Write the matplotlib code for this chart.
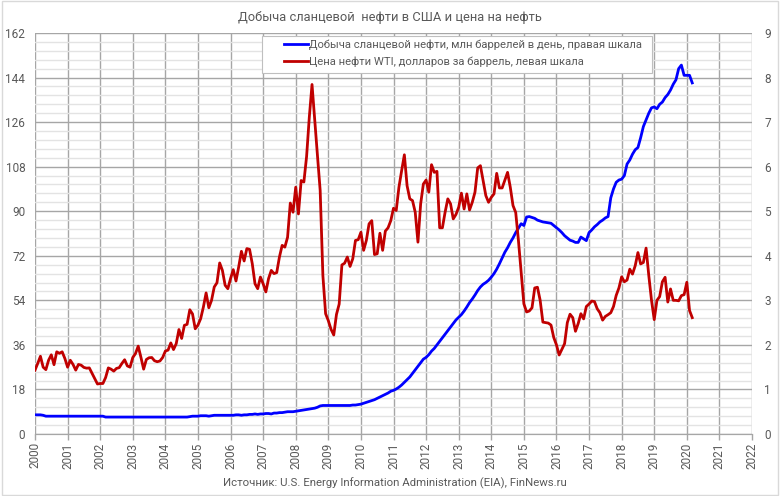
import matplotlib
matplotlib.use("Agg")
import matplotlib.pyplot as plt
from matplotlib.ticker import MultipleLocator
import numpy as np

plt.rcParams['font.family'] = ['Roboto', 'DejaVu Sans']

# ---- data: WTI oil price, USD per barrel (left axis), monthly from Jan 2000
wti = {
    2000: [25.8, 28.5, 31.4, 27.0, 26.0, 29.8, 32.0, 28.0, 33.2, 32.6, 33.2, 30.5],
    2001: [27.0, 29.8, 28.1, 25.8, 28.1, 27.8, 26.9, 26.6, 26.7, 24.5, 22.4, 20.2],
    2002: [20.4, 20.4, 22.8, 26.7, 26.2, 25.4, 26.5, 26.8, 28.5, 30.0, 27.5, 27.0],
    2003: [30.9, 32.5, 35.5, 31.0, 26.2, 30.1, 30.8, 30.9, 29.6, 29.2, 29.5, 30.9],
    2004: [33.5, 33.9, 36.8, 34.1, 36.5, 42.2, 38.6, 43.9, 44.3, 50.2, 48.5, 42.5],
    2005: [44.0, 46.6, 51.3, 57.0, 51.0, 54.0, 59.4, 61.1, 69.1, 66.1, 60.1, 58.7],
    2006: [62.8, 66.4, 61.8, 67.5, 73.8, 69.9, 74.9, 74.6, 68.8, 60.7, 58.7, 63.4],
    2007: [60.7, 57.4, 62.8, 66.1, 64.8, 65.2, 71.5, 76.2, 75.5, 79.5, 93.3, 89.6],
    2008: [99.7, 88.9, 102.4, 101.8, 112.1, 128.0, 141.2, 126.7, 112.5, 98.4, 64.0, 48.6],
    2009: [45.8, 42.3, 40.0, 48.3, 52.5, 68.3, 69.0, 71.5, 67.7, 70.8, 78.2, 78.5],
    2010: [81.5, 74.2, 78.2, 84.9, 86.2, 72.5, 72.8, 81.1, 74.2, 82.0, 83.3, 86.2],
    2011: [91.2, 90.3, 99.7, 106.4, 112.8, 100.3, 95.0, 94.3, 89.6, 77.5, 93.0, 101.0],
    2012: [102.6, 97.7, 108.8, 105.7, 106.1, 83.3, 83.3, 89.6, 95.0, 93.0, 86.9, 88.7],
    2013: [91.6, 97.3, 90.9, 97.0, 90.5, 93.6, 97.7, 107.5, 108.4, 102.4, 96.3, 93.6],
    2014: [95.6, 97.0, 105.3, 99.4, 99.4, 102.6, 105.7, 99.7, 92.3, 89.5, 78.2, 65.5],
    2015: [52.6, 49.3, 49.7, 51.0, 59.0, 59.3, 54.0, 45.2, 45.0, 44.8, 44.0, 39.0],
    2016: [36.0, 31.9, 34.2, 36.5, 45.0, 48.4, 47.0, 41.5, 44.6, 48.6, 46.5, 51.5],
    2017: [52.5, 53.7, 53.5, 50.6, 49.0, 46.0, 47.5, 48.2, 49.0, 51.5, 56.0, 59.0],
    2018: [63.5, 61.5, 62.2, 66.6, 64.6, 68.0, 73.3, 68.7, 69.3, 75.1, 64.0, 54.0],
    2019: [46.2, 54.0, 55.5, 61.5, 63.3, 53.3, 58.6, 54.0, 54.0, 53.8, 55.9, 56.3],
    2020: [61.3, 49.9, 47.0],
}

# ---- data: shale oil production, mln barrels per day (right axis), monthly from Jan 2000
shale = {
    2000: [0.43, 0.43, 0.43, 0.42, 0.40, 0.40, 0.40, 0.40, 0.40, 0.40, 0.40, 0.40],
    2001: [0.40, 0.40, 0.40, 0.40, 0.40, 0.40, 0.40, 0.40, 0.40, 0.40, 0.40, 0.40],
    2002: [0.40, 0.40, 0.38, 0.38, 0.38, 0.38, 0.38, 0.38, 0.38, 0.38, 0.38, 0.38],
    2003: [0.38, 0.38, 0.38, 0.38, 0.38, 0.38, 0.38, 0.38, 0.38, 0.38, 0.38, 0.38],
    2004: [0.38, 0.38, 0.38, 0.38, 0.38, 0.38, 0.38, 0.38, 0.38, 0.39, 0.40, 0.40],
    2005: [0.40, 0.41, 0.41, 0.41, 0.40, 0.41, 0.42, 0.42, 0.42, 0.42, 0.42, 0.42],
    2006: [0.42, 0.42, 0.43, 0.43, 0.42, 0.43, 0.43, 0.44, 0.44, 0.45, 0.44, 0.45],
    2007: [0.45, 0.46, 0.46, 0.45, 0.47, 0.47, 0.48, 0.48, 0.49, 0.50, 0.50, 0.50],
    2008: [0.51, 0.52, 0.53, 0.54, 0.55, 0.56, 0.57, 0.58, 0.60, 0.63, 0.64, 0.64],
    2009: [0.64, 0.64, 0.64, 0.64, 0.64, 0.64, 0.64, 0.64, 0.64, 0.65, 0.65, 0.66],
    2010: [0.67, 0.69, 0.71, 0.73, 0.75, 0.77, 0.80, 0.83, 0.86, 0.89, 0.92, 0.96],
    2011: [0.98, 1.01, 1.05, 1.10, 1.16, 1.22, 1.28, 1.36, 1.44, 1.52, 1.60, 1.68],
    2012: [1.72, 1.78, 1.86, 1.92, 2.00, 2.08, 2.16, 2.24, 2.32, 2.40, 2.48, 2.56],
    2013: [2.62, 2.68, 2.76, 2.85, 2.95, 3.03, 3.12, 3.22, 3.30, 3.36, 3.40, 3.45],
    2014: [3.52, 3.60, 3.70, 3.82, 3.95, 4.08, 4.18, 4.30, 4.40, 4.52, 4.62, 4.72],
    2015: [4.68, 4.87, 4.88, 4.86, 4.84, 4.80, 4.78, 4.76, 4.75, 4.74, 4.73, 4.68],
    2016: [4.63, 4.58, 4.52, 4.45, 4.40, 4.35, 4.33, 4.30, 4.30, 4.42, 4.38, 4.34],
    2017: [4.52, 4.58, 4.65, 4.70, 4.76, 4.80, 4.85, 4.88, 5.30, 5.50, 5.65, 5.70],
    2018: [5.72, 5.80, 6.06, 6.15, 6.28, 6.38, 6.43, 6.65, 6.90, 7.05, 7.20, 7.32],
    2019: [7.34, 7.30, 7.40, 7.45, 7.55, 7.62, 7.72, 7.85, 7.95, 8.20, 8.28, 8.05],
    2020: [8.05, 8.05, 7.88],
}

title = "Добыча сланцевой  нефти в США и цена на нефть"
source = "Источник: U.S. Energy Information Administration (EIA), FinNews.ru"
label_shale = "Добыча сланцевой нефти, млн баррелей в день, правая шкала"
label_wti = "Цена нефти WTI, долларов за баррель, левая шкала"
x_years = list(range(2000, 2023))


def to_series(d):
    xs, ys = [], []
    for yr in sorted(d):
        for m, v in enumerate(d[yr]):
            xs.append(yr + m / 12.0)
            ys.append(v)
    return np.array(xs), np.array(ys)


wx, wy = to_series(wti)
sx, sy = to_series(shale)

TXT = '#595959'
fig = plt.figure(figsize=(7.8, 4.96), dpi=100)
fig.patch.set_facecolor('white')
fig.add_artist(plt.Rectangle((0.002, 0.003), 0.996, 0.994, transform=fig.transFigure,
                             fill=False, edgecolor='#d9d9d9', linewidth=1.0))

ax2 = fig.add_axes([35 / 780, 62 / 496, 717 / 780, 401 / 496])
ax = ax2.twinx()
ax.set_zorder(ax2.get_zorder() + 1)
ax.patch.set_visible(False)

ax2.yaxis.tick_right()
ax.yaxis.tick_left()
ax.yaxis.set_label_position('left')

# grid on ax2 (behind)
ax2.set_xlim(2000, 2022)
ax2.set_ylim(0, 9)
ax2.yaxis.set_major_locator(MultipleLocator(1))
ax2.yaxis.set_minor_locator(MultipleLocator(0.2))
ax2.set_xticks(x_years)
ax2.grid(True, which='major', axis='both', color='#a6a6a6', linewidth=1.0)
ax2.grid(True, which='minor', axis='y', color='#e3e3e3', linewidth=1.0)
ax2.set_axisbelow(True)

ax.set_ylim(0, 162)
ax.yaxis.set_major_locator(MultipleLocator(18))

ax2.plot(sx, sy, color='#0000ff', linewidth=2.0, solid_joinstyle='round', label=label_shale)
ax.plot(wx, wy, color='#c00000', linewidth=2.0, solid_joinstyle='round', label=label_wti)

for a in (ax, ax2):
    for s in ('top', 'left', 'right'):
        a.spines[s].set_visible(False)
    a.spines['bottom'].set_color('#a6a6a6')

ax.tick_params(axis='y', which='both', length=0, pad=7, labelsize=8.5, labelcolor=TXT)
ax2.tick_params(axis='y', which='both', length=0, pad=9, labelsize=8.5, labelcolor=TXT,
                labelleft=False, labelright=True)
ax2.tick_params(axis='x', which='major', length=4, color='#a6a6a6', width=1.0,
                pad=2, labelsize=8.5, labelcolor=TXT, labelrotation=90)
ax.tick_params(axis='x', which='both', length=0, labelbottom=False)

# legend frame drawn separately (wider box, as in reference)
x0, x1 = (262 - 35) / 717, (652 - 35) / 717
y1, y0 = 1 - (36 - 33) / 401, 1 - (73 - 33) / 401
ax.add_patch(plt.Rectangle((x0, y0), x1 - x0, y1 - y0, transform=ax.transAxes,
                           facecolor='white', edgecolor='#bfbfbf', linewidth=0.8,
                           zorder=4, clip_on=False))

h1, l1 = ax2.get_legend_handles_labels()
h2, l2 = ax.get_legend_handles_labels()
leg = ax.legend(h1 + h2, l1 + l2, loc='upper left',
                bbox_to_anchor=((284 - 35) / 717, 1 - (39 - 33) / 401),
                fontsize=8.1, frameon=False, handlelength=2.1, handletextpad=0.1,
                borderpad=0.0, labelspacing=0.62, borderaxespad=0)
leg.set_zorder(5)
for t in leg.get_texts():
    t.set_color(TXT)

fig.text(0.5, 1 - 17 / 496, title, ha='center', va='center', fontsize=9.3, color=TXT)
fig.text(0.506, 1 - 483 / 496, source, ha='center', va='center', fontsize=8.2, color=TXT)

fig.savefig('out.png', dpi=100, facecolor='white')
